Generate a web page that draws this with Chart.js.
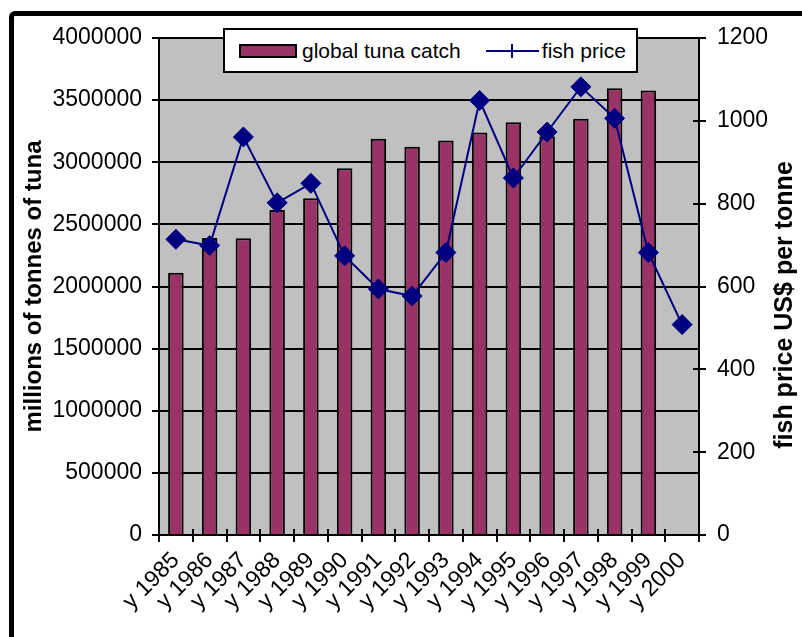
<!DOCTYPE html>
<html>
<head>
<meta charset="utf-8">
<script src="https://cdn.jsdelivr.net/npm/chart.js@4.4.0/dist/chart.umd.min.js"></script>
<style>
html, body { margin:0; padding:0; background:#fff; overflow:hidden; }
#wrap { position:relative; width:802px; height:637px; overflow:hidden; font-family:"Liberation Sans", Arial, sans-serif; }
#frame { position:absolute; left:9px; top:11px; width:900px; height:800px; border:5px solid #000; border-radius:6px; }
#title { position:absolute; left:78px; top:-41px; font-weight:bold; font-size:37px; line-height:40px; white-space:nowrap; color:#000; }
#chart { position:absolute; left:0; top:0; }
#legend { position:absolute; left:223px; top:28px; width:411px; height:41px; background:#fff; border:2px solid #000;
          display:flex; align-items:center; font-size:21px; color:#000; }
#legend .swatch { width:54px; height:10px; background:#993366; border:2px solid #000; margin-left:14px; }
#legend .lbl1 { margin-left:5px; }
#legend .line { position:relative; width:53px; height:2px; background:#000080; margin-left:25px; }
#legend .line::after { content:""; position:absolute; left:25px; top:-6px; width:2px; height:14px; background:#000080; }
#legend .lbl2 { margin-left:3px; }
</style>
</head>
<body>
<div id="wrap">
  <div id="title">global tuna catch and fish price</div>
  <div id="frame"></div>
  <canvas id="chart" width="802" height="637"></canvas>
  <div id="legend">
    <span class="swatch"></span><span class="lbl1">global tuna catch</span>
    <span class="line"></span><span class="lbl2">fish price</span>
  </div>
</div>
<script>
// DATA
const years = ["y 1985", "y 1986", "y 1987", "y 1988", "y 1989", "y 1990", "y 1991", "y 1992",
               "y 1993", "y 1994", "y 1995", "y 1996", "y 1997", "y 1998", "y 1999", "y 2000"];
const tunaCatch = [2110000, 2390000, 2388000, 2616000, 2710000, 2952000, 3189000, 3124000,
                   3176000, 3240000, 3322000, 3210000, 3351000, 3595000, 3578000, null];
const fishPrice = [714, 699, 961, 802, 849, 674, 594, 577,
                   682, 1049, 862, 973, 1082, 1006, 682, 508];

const leftTitle = "millions of tonnes of tuna";
const rightTitle = "fish price US$ per tonne";

const FONT = "'Liberation Sans', Arial, sans-serif";

// plot background, cross tick marks, right title
const framePlugin = {
    id: "frame",
    beforeDraw(chart) {
        let a = chart.chartArea;
        let ctx = chart.ctx;
        ctx.save();
        ctx.fillStyle = "#c0c0c0";
        ctx.fillRect(a.left, a.top, a.right - a.left, a.bottom - a.top);
        ctx.restore();
    },
    afterDraw(chart) {
        let a = chart.chartArea;
        let ctx = chart.ctx;
        let xs = chart.scales.x, yl = chart.scales.y, yr = chart.scales.y1;
        ctx.save();
        ctx.strokeStyle = "#000";
        ctx.lineWidth = 2;
        ctx.beginPath();
        // x ticks at category boundaries
        let n = years.length;
        for (let i = 0; i <= n; i++) {
            let x;
            if (i === 0) x = a.left;
            else if (i === n) x = a.right;
            else x = (xs.getPixelForValue(i - 1) + xs.getPixelForValue(i)) / 2;
            x = Math.round(x);
            ctx.moveTo(x, a.bottom - 6);
            ctx.lineTo(x, a.bottom + 7);
        }
        yl.ticks.forEach(t => {
            let y = Math.round(yl.getPixelForValue(t.value));
            ctx.moveTo(a.left - 7, y);
            ctx.lineTo(a.left + 6, y);
        });
        yr.ticks.forEach(t => {
            let y = Math.round(yr.getPixelForValue(t.value));
            ctx.moveTo(a.right - 6, y);
            ctx.lineTo(a.right + 7, y);
        });
        ctx.stroke();

        ctx.translate(785, 305);
        ctx.rotate(-Math.PI / 2);
        ctx.font = "bold 25px " + FONT;
        ctx.fillStyle = "#000";
        ctx.textAlign = "center";
        ctx.textBaseline = "middle";
        ctx.fillText(rightTitle, 0, 0);
        ctx.restore();
    }
};

new Chart(document.getElementById("chart"), {
    type: "bar",
    data: {
        labels: years,
        datasets: [
            {
                type: "line",
                label: "fish price",
                data: fishPrice,
                yAxisID: "y1",
                borderColor: "#000080",
                borderWidth: 2,
                backgroundColor: "#000080",
                pointStyle: "rectRot",
                pointRadius: 10,
                pointBackgroundColor: "#000080",
                pointBorderColor: "#000080",
                pointBorderWidth: 1,
                tension: 0,
                fill: false
            },
            {
                label: "global tuna catch",
                data: tunaCatch,
                yAxisID: "y",
                backgroundColor: "#993366",
                borderColor: "#000",
                borderWidth: 2,
                categoryPercentage: 1,
                barPercentage: 0.46
            }
        ]
    },
    options: {
        responsive: false,
        animation: false,
        devicePixelRatio: 1,
        layout: { padding: { top: 38, left: 0, right: 0, bottom: 0 } },
        plugins: {
            legend: { display: false },
            tooltip: { enabled: false }
        },
        scales: {
            x: {
                offset: true,
                grid: { display: false, drawTicks: false },
                border: { display: true, color: "#000", width: 2 },
                ticks: {
                    color: "#000",
                    font: { family: FONT, size: 23 },
                    maxRotation: 45,
                    minRotation: 45,
                    padding: 12,
                    autoSkip: false
                },
                afterFit(s) { s.height = 102; }
            },
            y: {
                position: "left",
                min: 0,
                max: 4000000,
                ticks: {
                    stepSize: 500000,
                    color: "#000",
                    font: { family: FONT, size: 23 },
                    padding: 17,
                    callback: v => String(v)
                },
                grid: { color: "#000", lineWidth: 2, drawTicks: false },
                border: { display: true, color: "#000", width: 2 },
                title: {
                    display: true,
                    text: leftTitle,
                    color: "#000",
                    font: { family: FONT, size: 24, weight: "bold" },
                    padding: { top: 20, bottom: 0 }
                },
                afterFit(s) { s.width = 159; }
            },
            y1: {
                position: "right",
                min: 0,
                max: 1200,
                ticks: {
                    stepSize: 200,
                    color: "#000",
                    font: { family: FONT, size: 23 },
                    padding: 18,
                    callback: v => String(v)
                },
                grid: { display: false, drawOnChartArea: false, drawTicks: false },
                border: { display: true, color: "#000", width: 2 },
                afterFit(s) { s.width = 103; }
            }
        }
    },
    plugins: [framePlugin]
});
</script>
</body>
</html>
